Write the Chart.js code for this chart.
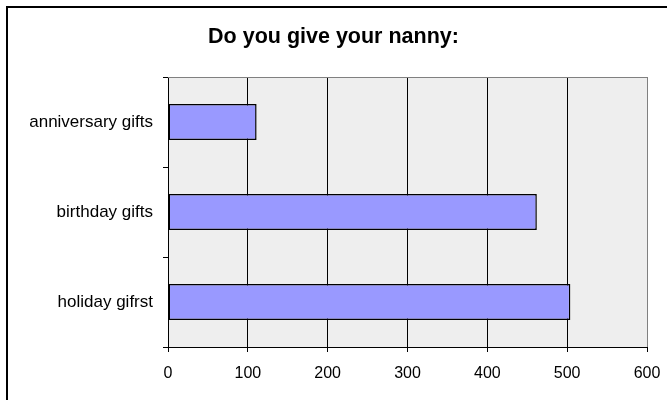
<!DOCTYPE html>
<html>
<head>
<meta charset="utf-8">
<script src="https://cdn.jsdelivr.net/npm/chart.js@4/dist/chart.umd.min.js"></script>
<style>
  html, body { margin: 0; padding: 0; background: #fff; }
  #wrap { width: 667px; height: 400px; position: relative; }
</style>
</head>
<body>
<div id="wrap"><canvas id="nannyChart" width="667" height="400"></canvas></div>
<script>
// data
const categories = ["anniversary gifts", "birthday gifts", "holiday gifrst"];
const giftCounts = [111, 462, 504];
const xTicks = [0, 100, 200, 300, 400, 500, 600];
const chartTitle = "Do you give your nanny:";

// grey plot background + top/right border, and the outer frame
const frame = {
  id: "frame",
  beforeDraw(chart) {
    const { ctx, chartArea: a } = chart;
    ctx.save();
    ctx.fillStyle = "#eeeeee";
    ctx.fillRect(a.left, a.top, a.right - a.left, a.bottom - a.top);
    ctx.restore();
  },
  beforeDatasetsDraw(chart) {
    const { ctx, chartArea: a } = chart;
    ctx.save();
    ctx.strokeStyle = "#808080";
    ctx.lineWidth = 1;
    ctx.beginPath();
    ctx.moveTo(a.left, a.top + 0.5);
    ctx.lineTo(a.right + 0.5, a.top + 0.5);
    ctx.lineTo(a.right + 0.5, a.bottom);
    ctx.stroke();
    ctx.restore();
  },
  afterDraw(chart) {
    const ctx = chart.ctx;
    ctx.save();
    ctx.strokeStyle = "#000";
    ctx.lineWidth = 2;
    ctx.strokeRect(7, 7, 700, 420);
    ctx.restore();
  }
};

new Chart(document.getElementById("nannyChart").getContext("2d"), {
  type: "bar",
  data: {
    labels: categories,
    datasets: [{
      data: giftCounts,
      backgroundColor: "#9999ff",
      borderColor: "#000",
      borderWidth: 1.5,
      borderSkipped: false,
      barPercentage: 0.4,
      categoryPercentage: 1.0
    }]
  },
  options: {
    indexAxis: "y",
    responsive: false,
    animation: false,
    layout: { padding: { left: 20, right: 20, top: 0, bottom: 0 } },
    plugins: {
      legend: { display: false },
      tooltip: { enabled: false },
      title: {
        display: true,
        text: chartTitle,
        color: "#000",
        font: { family: "Arial, 'Liberation Sans', sans-serif", size: 21.5, weight: "bold" },
        padding: { top: 24, bottom: 27.2 }
      }
    },
    scales: {
      x: {
        min: 0,
        max: 600,
        afterBuildTicks: (s) => { s.ticks = xTicks.map((v) => ({ value: v })); },
        afterFit: (s) => { s.height = 53; s.paddingLeft = 0; s.paddingRight = 0; },
        grid: {
          color: (c) => (c.tick && c.tick.value === 600 ? "#808080" : "#000"),
          lineWidth: 1,
          tickLength: 5,
          tickColor: "#000"
        },
        border: { color: "#000", width: 1 },
        ticks: {
          color: "#000",
          padding: 12,
          maxRotation: 0,
          font: { family: "Arial, 'Liberation Sans', sans-serif", size: 16 }
        }
      },
      y: {
        afterFit: (s) => { s.width = 148; },
        grid: {
          drawOnChartArea: false,
          offset: true,
          tickLength: 5,
          tickColor: "#000"
        },
        border: { color: "#000", width: 1 },
        ticks: {
          color: "#000",
          padding: 10,
          font: { family: "Arial, 'Liberation Sans', sans-serif", size: 17 }
        }
      }
    }
  },
  plugins: [frame]
});
</script>
</body>
</html>
